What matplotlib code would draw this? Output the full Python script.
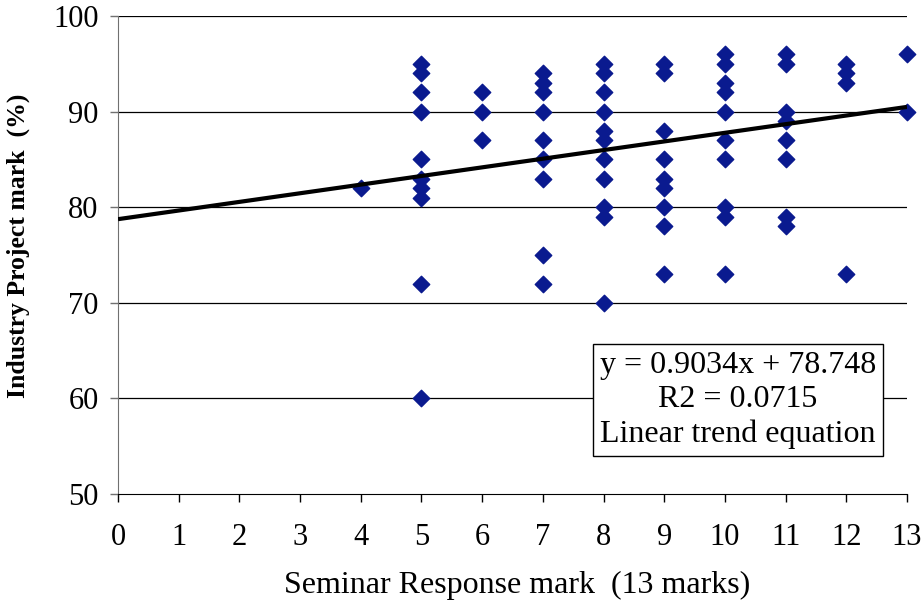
import numpy as np
import matplotlib
matplotlib.use("Agg")
import matplotlib.pyplot as plt

plt.rcParams['font.family'] = ['Liberation Serif', 'DejaVu Serif']

# seminar response mark -> list of industry project marks
seminar = [4, 5, 6, 7, 8, 9, 10, 11, 12, 13]
project = [
    [82],
    [95, 94, 92, 90, 85, 83, 82, 81, 72, 60],
    [92, 90, 87],
    [94, 93, 92, 90, 87, 85, 83, 75, 72],
    [95, 94, 92, 90, 88, 87, 85, 83, 80, 79, 70],
    [95, 94, 88, 85, 83, 82, 80, 78, 73],
    [96, 95, 93, 92, 90, 87, 85, 80, 79, 73],
    [96, 95, 90, 89, 87, 85, 79, 78],
    [95, 94, 93, 73],
    [96, 90],
]
slope = 0.9034
intercept = 78.748
r2 = 0.0715

xs = []
ys = []
for s, marks in zip(seminar, project):
    for m in marks:
        xs.append(s)
        ys.append(m)

fig = plt.figure(figsize=(9.23, 6.02), dpi=100)
ax = fig.add_axes([118 / 923, 108 / 602, 789 / 923, 478 / 602])

for v in [60, 70, 80, 90, 100]:
    ax.axhline(v, color='black', lw=0.9, zorder=1)

ax.scatter(xs, ys, marker='D', s=70, color='#0A1A8F', zorder=3, clip_on=False)

tx = np.array([0, 13])
ax.plot(tx, slope * tx + intercept, color='black', lw=3, zorder=4, solid_capstyle='butt')

ax.set_xlim(0, 13)
ax.set_ylim(50, 100)
ax.set_xticks(range(0, 14))
ax.set_yticks(range(50, 101, 10))
for sp in ['top', 'right']:
    ax.spines[sp].set_visible(False)
ax.spines['left'].set_color('#707070')
ax.spines['bottom'].set_color('black')
ax.tick_params(axis='both', direction='out', length=6, width=1, labelsize=22)
ax.tick_params(axis='x', pad=15)
ax.tick_params(axis='y', pad=8, colors='#707070', labelcolor='black')

ax.set_xlabel('Seminar Response mark  (13 marks)', fontsize=23, va='center')
ax.xaxis.set_label_coords(0.506, -0.192)
ax.set_ylabel('Industry Project mark  (%)', fontsize=18.5, fontweight='bold', va='center')
ax.yaxis.set_label_coords(-0.127, 0.52)

ax.text(0.786, 0.197, 'y = %.4fx + %.3f\nR2 = %.4f\nLinear trend equation' % (slope, intercept, r2),
        transform=ax.transAxes, ha='center', va='center', fontsize=23, linespacing=1.24,
        bbox=dict(boxstyle='square,pad=0.22', facecolor='white', edgecolor='black', lw=1), zorder=5)

fig.savefig('out.png', dpi=100)
